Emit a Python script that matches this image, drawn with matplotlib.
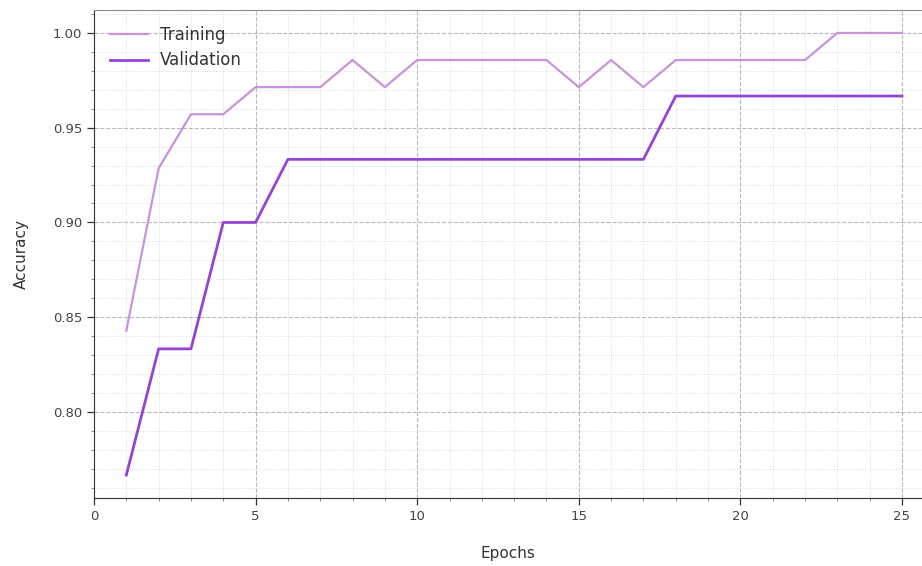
import matplotlib
matplotlib.use("Agg")
import matplotlib.pyplot as plt
from matplotlib.ticker import MultipleLocator

epochs = list(range(1, 26))
train_acc = [0.8429, 0.9286, 0.9571, 0.9571, 0.9714, 0.9714, 0.9714, 0.9857, 0.9714, 0.9857,
             0.9857, 0.9857, 0.9857, 0.9857, 0.9714, 0.9857, 0.9714, 0.9857, 0.9857, 0.9857,
             0.9857, 0.9857, 1.0, 1.0, 1.0]
val_acc = [0.7667, 0.8333, 0.8333, 0.9, 0.9, 0.9333, 0.9333, 0.9333, 0.9333, 0.9333,
           0.9333, 0.9333, 0.9333, 0.9333, 0.9333, 0.9333, 0.9333, 0.9667, 0.9667, 0.9667,
           0.9667, 0.9667, 0.9667, 0.9667, 0.9667]

fig = plt.figure(figsize=(9.22, 5.66), dpi=100)
ax = fig.add_axes([94 / 922, 1 - 498 / 566, 1 - 94 / 922, 488 / 566])

ax.plot(epochs, train_acc, color="#cb92dc", lw=1.6, label="Training")
ax.plot(epochs, val_acc, color="#9445d6", lw=2.0, label="Validation")

ax.set_xlim(0, 25.62)
ax.set_ylim(0.7546, 1.0121)
ax.xaxis.set_major_locator(MultipleLocator(5))
ax.xaxis.set_minor_locator(MultipleLocator(1))
ax.yaxis.set_major_locator(MultipleLocator(0.05))
ax.yaxis.set_minor_locator(MultipleLocator(0.01))
ax.yaxis.set_major_formatter(matplotlib.ticker.FormatStrFormatter("%.2f"))

ax.grid(which="major", color="#a0a0a0", linestyle="--", linewidth=0.8, alpha=0.75)
ax.grid(which="minor", color="#d4d4d4", linestyle=":", linewidth=0.6)
ax.set_axisbelow(True)

ax.tick_params(which="major", length=5, width=0.9, colors="#333333", labelsize=9.5,
               labelcolor="#444444")
ax.tick_params(which="minor", length=2.5, width=0.6, colors="#777777")

ax.spines["right"].set_visible(False)
ax.spines["top"].set_color("#8a8a8a")
ax.spines["left"].set_color("#333333")
ax.spines["bottom"].set_color("#333333")

ax.set_xlabel("Epochs", fontsize=11, color="#333333", labelpad=17)
ax.set_ylabel("Accuracy", fontsize=11, color="#333333", labelpad=17)

leg = ax.legend(loc="upper left", fontsize=12, frameon=False, handlelength=2.3,
                handletextpad=0.7, borderaxespad=0.55, labelspacing=0.45)
for t in leg.get_texts():
    t.set_color("#333333")

fig.savefig("out.png", dpi=100)
